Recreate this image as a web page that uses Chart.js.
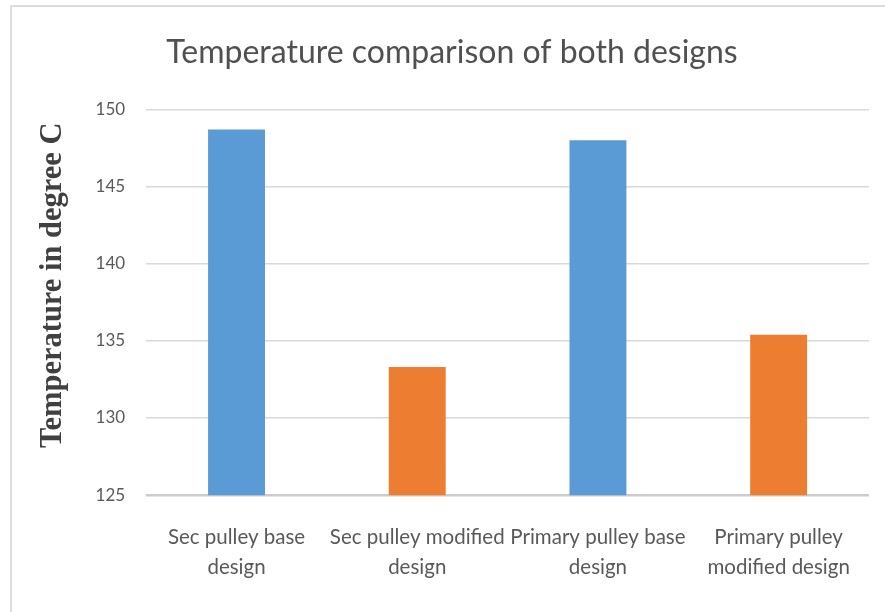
<!DOCTYPE html>
<html>
<head>
<meta charset="utf-8">
<script src="https://cdn.jsdelivr.net/npm/chart.js@4"></script>
<style>
  html, body { margin: 0; padding: 0; background: #ffffff; }
  #wrap { position: relative; width: 885px; height: 612px; overflow: hidden; }
  #frame { position: absolute; left: 10px; top: 5px; width: 900px; height: 640px;
           border-left: 2px solid #dcdcdc; border-top: 2px solid #dcdcdc; box-sizing: border-box; }
  canvas { position: absolute; left: 0; top: 0; }
</style>
</head>
<body>
<div id="wrap">
  <div id="frame"></div>
  <canvas id="c" width="885" height="612"></canvas>
</div>
<script>
// Category labels (two lines each) and measured temperatures
const categories = [
  ["Sec pulley base", "design"],
  ["Sec pulley modified", "design"],
  ["Primary pulley base", "design"],
  ["Primary pulley", "modified design"]
];
const temperatures = [148.7, 133.3, 148.0, 135.4];
const barColors = ["#5B9BD5", "#ED7D31", "#5B9BD5", "#ED7D31"];
const yTicks = [125, 130, 135, 140, 145, 150];

// Lifts the vertical axis title a little above the plot-area centre
const liftYTitle = {
  id: "liftYTitle",
  beforeDraw(chart) {
    const scale = chart.scales.y;
    if (!scale || scale._lifted) return;
    const original = scale.drawTitle;
    scale.drawTitle = function () {
      const ctx = this.ctx;
      ctx.save();
      ctx.translate(0, -17);
      original.apply(this, arguments);
      ctx.restore();
    };
    scale._lifted = true;
  }
};

new Chart(document.getElementById("c"), {
  type: "bar",
  data: {
    labels: categories,
    datasets: [{
      label: "Temperature",
      data: temperatures,
      backgroundColor: barColors,
      borderWidth: 0,
      barPercentage: 1,
      categoryPercentage: 0.315
    }]
  },
  options: {
    responsive: false,
    animation: false,
    layout: { padding: { left: 35, right: 16, top: 0, bottom: 3 } },
    plugins: {
      legend: { display: false },
      tooltip: { enabled: false },
      title: {
        display: true,
        text: "Temperature comparison of both designs",
        color: "#505050",
        font: { family: "Lato", size: 32, weight: 400, lineHeight: 1.2 },
        padding: { top: 33, bottom: 38 }
      }
    },
    scales: {
      x: {
        grid: { display: false, drawTicks: false },
        border: { display: false },
        ticks: {
          color: "#595959",
          font: { family: "Lato", size: 20.5, lineHeight: 1.46 },
          padding: 27,
          autoSkip: false,
          maxRotation: 0,
          minRotation: 0
        }
      },
      y: {
        min: 125,
        max: 150,
        afterBuildTicks: (scale) => { scale.ticks = yTicks.map(v => ({ value: v })); },
        grid: {
          drawTicks: false,
          color: (ctx) => ctx.tick && ctx.tick.value === 125 ? "#cccccc" : "#d9d9d9",
          lineWidth: (ctx) => ctx.tick && ctx.tick.value === 125 ? 2.5 : 1.5
        },
        border: { display: false },
        ticks: {
          color: "#595959",
          font: { family: "Lato", size: 17 },
          padding: 21
        },
        title: {
          display: true,
          text: "Temperature in degree C",
          color: "#404040",
          font: { family: "Liberation Serif", size: 30.5, weight: "bold", lineHeight: 1.2 },
          padding: { top: 0, bottom: 3 }
        }
      }
    }
  },
  plugins: [liftYTitle]
});
</script>
</body>
</html>
